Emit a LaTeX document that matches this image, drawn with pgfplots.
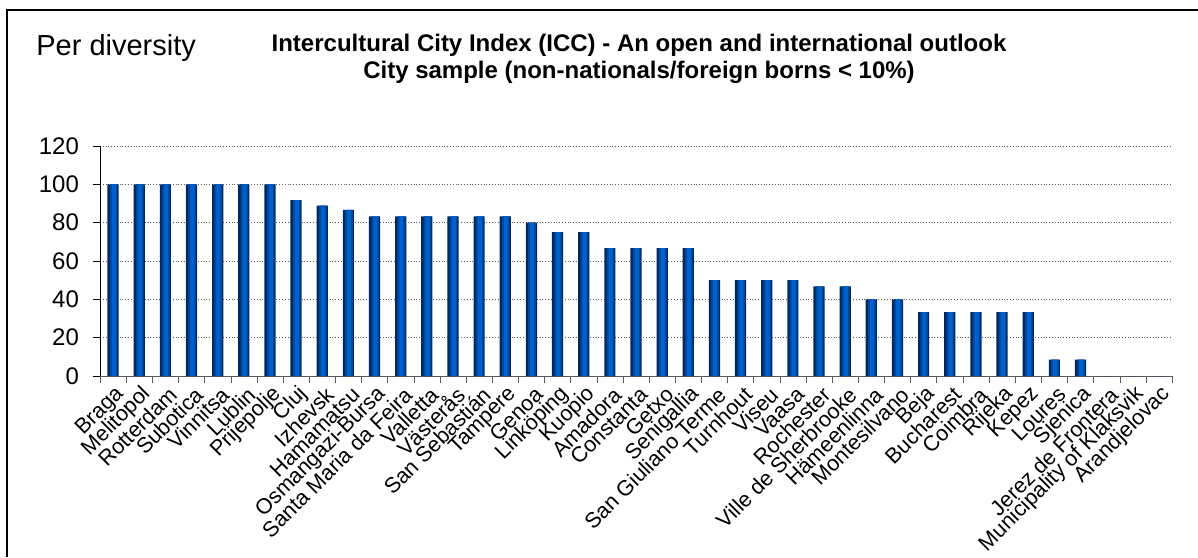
\documentclass[border=0pt]{standalone}
\usepackage{fontspec}
\setmainfont{Liberation Sans}
\usepackage{pgfplots}
\usepackage{pgfplotstable}
\pgfplotsset{compat=1.18}

\definecolor{barouter}{RGB}{0,40,98}
\definecolor{barinner}{RGB}{0,72,158}
\definecolor{barcore}{RGB}{0,96,206}
\definecolor{gridgray}{RGB}{90,90,90}

% score per city, cities in order of the chart
\pgfplotstableread{
x y
0 100
1 100
2 100
3 100
4 100
5 100
6 100
7 91.7
8 88.9
9 86.7
10 83.3
11 83.3
12 83.3
13 83.3
14 83.3
15 83.3
16 80
17 75
18 75
19 66.7
20 66.7
21 66.7
22 66.7
23 50
24 50
25 50
26 50
27 46.7
28 46.7
29 40
30 40
31 33.3
32 33.3
33 33.3
34 33.3
35 33.3
36 8.5
37 8.5
38 0
39 0
40 0
}\scores

\begin{document}
\begin{tikzpicture}
  % page is 599pt x 278.5pt (1198 x 557 px at 0.5pt per px)
  \useasboundingbox (0,0) rectangle (599pt,278.5pt);
  \draw[line width=1pt] (3.5pt,0) -- (3.5pt,273.5pt) -- (599pt,273.5pt);

  \node[anchor=base west, inner sep=0pt, font=\fontsize{14.5}{16}\selectfont] at (18pt,250.5pt) {Per diversity};
  \node[anchor=base, inner sep=0pt, font=\bfseries\fontsize{12}{13.8}\selectfont] at (319.5pt,252.5pt)
    {Intercultural City Index (ICC) - An open and international outlook};
  \node[anchor=base, inner sep=0pt, font=\bfseries\fontsize{12}{13.8}\selectfont] at (319.5pt,239pt)
    {City sample (non-nationals/foreign borns < 10\%)};

  \begin{axis}[
      at={(50pt,90.5pt)}, anchor=south west,
      scale only axis,
      width=536pt, height=115pt,
      xmin=-0.5, xmax=40.5,
      ymin=0, ymax=120,
      ytick={0,20,...,120},
      xtick={0,...,40},
      xticklabels={Braga, Melitopol, Rotterdam, Subotica, Vinnitsa, Lublin,
        Prijepolje, Cluj, Izhevsk, Hamamatsu, Osmangazi-Bursa,
        Santa Maria da Feira, Valletta, Västerås, San Sebastián, Tampere,
        Genoa, Linköping, Kuopio, Amadora, Constanta, Getxo, Senigallia,
        San Giuliano Terme, Turnhout, Viseu, Vaasa, Rochester,
        Ville de Sherbrooke, Hämeenlinna, Montesilvano, Beja, Bucharest,
        Coimbra, Rijeka, Kepez, Loures, Sjenica, Jerez de Frontera,
        Municipality of Klaksvik, Arandjelovac},
      minor xtick={-0.5,0.5,...,40.5},
      major x tick style={draw=none},
      minor tick length=3.5pt,
      major tick length=3.5pt,
      tick align=outside,
      xtick pos=bottom, ytick pos=left,
      axis x line*=bottom, axis y line*=left,
      x axis line style={gridgray, -},
      y axis line style={black, -},
      ytick style={black},
      minor x tick style={gridgray},
      ymajorgrids,
      grid style={gridgray, densely dotted, line width=0.4pt},
      xticklabel style={rotate=45, anchor=east, font=\fontsize{10.8}{12}\selectfont,
        inner sep=1pt, yshift=-5.5pt, xshift=1pt},
      yticklabel style={font=\fontsize{12}{13}\selectfont, xshift=-3.5pt},
      /pgf/number format/assume math mode=true,
      ybar,
    ]
    \addplot[draw=none, fill=barouter, bar width=5.6pt, bar shift=0pt] table[x=x, y=y] {\scores};
    \addplot[draw=none, fill=barinner, bar width=3.8pt, bar shift=0.3pt] table[x=x, y=y] {\scores};
    \addplot[draw=none, fill=barcore, bar width=2pt, bar shift=0.4pt] table[x=x, y=y] {\scores};
  \end{axis}
\end{tikzpicture}
\end{document}
